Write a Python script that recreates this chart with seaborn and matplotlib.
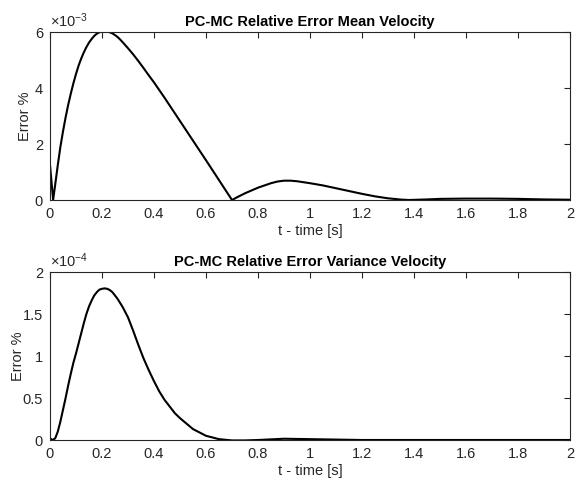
import numpy as np
import pandas as pd
import matplotlib
matplotlib.use("Agg")
import matplotlib.pyplot as plt
import seaborn as sns

# ---- data ----
# Top: PC-MC relative error of mean velocity, in units of 1e-3
t_mean = [0.0, 0.012, 0.02, 0.03, 0.04, 0.05, 0.06, 0.07, 0.08, 0.09, 0.10, 0.11,
          0.12, 0.13, 0.14, 0.15, 0.16, 0.17, 0.18, 0.19, 0.20, 0.21, 0.22, 0.23,
          0.24, 0.25, 0.26, 0.27, 0.28, 0.30, 0.32, 0.34, 0.36, 0.38, 0.40, 0.42,
          0.44, 0.46, 0.48, 0.50, 0.55, 0.60, 0.65, 0.70, 0.72, 0.75, 0.80, 0.85,
          0.875, 0.90, 0.925, 0.95, 1.00, 1.05, 1.10, 1.15, 1.20, 1.25, 1.30, 1.35,
          1.38, 1.45, 1.50, 1.60, 1.70, 1.80, 1.90, 2.00]
err_mean_e3 = [1.25, 0.0, 0.55, 1.25, 1.9, 2.45, 2.95, 3.4, 3.8, 4.17, 4.5, 4.8,
               5.05, 5.27, 5.46, 5.62, 5.75, 5.86, 5.94, 5.99, 6.02, 6.03, 6.02, 5.99,
               5.95, 5.89, 5.82, 5.73, 5.63, 5.42, 5.2, 4.96, 4.71, 4.45, 4.2, 3.93,
               3.66, 3.38, 3.1, 2.82, 2.12, 1.42, 0.71, 0.0, 0.1, 0.24, 0.44, 0.6,
               0.66, 0.69, 0.69, 0.67, 0.6, 0.52, 0.42, 0.32, 0.22, 0.13, 0.06, 0.015,
               0.0, 0.02, 0.04, 0.05, 0.05, 0.04, 0.02, 0.01]

# Bottom: PC-MC relative error of velocity variance, in units of 1e-4
t_var = [0.0, 0.01, 0.02, 0.03, 0.04, 0.05, 0.06, 0.07, 0.08, 0.09, 0.10, 0.11,
         0.12, 0.13, 0.14, 0.15, 0.16, 0.17, 0.18, 0.19, 0.20, 0.21, 0.22, 0.23,
         0.24, 0.25, 0.26, 0.27, 0.28, 0.29, 0.30, 0.32, 0.34, 0.36, 0.38, 0.40,
         0.42, 0.44, 0.46, 0.48, 0.50, 0.55, 0.60, 0.65, 0.70, 0.75, 0.80, 0.90,
         1.00, 1.10, 1.20, 1.40, 1.60, 1.80, 2.00]
err_var_e4 = [0.02, 0.0, 0.02, 0.1, 0.22, 0.36, 0.5, 0.65, 0.79, 0.92, 1.03, 1.15,
              1.27, 1.39, 1.5, 1.59, 1.66, 1.72, 1.76, 1.79, 1.80, 1.805, 1.8, 1.785,
              1.76, 1.72, 1.68, 1.63, 1.58, 1.52, 1.46, 1.3, 1.13, 0.97, 0.83, 0.7,
              0.58, 0.48, 0.4, 0.32, 0.26, 0.13, 0.05, 0.01, -0.005, -0.005, 0.0, 0.015,
              0.01, 0.005, 0.0, 0.0, 0.0, 0.0, 0.0]

x_ticks = [0, 0.2, 0.4, 0.6, 0.8, 1, 1.2, 1.4, 1.6, 1.8, 2]
x_tick_labels = ["0", "0.2", "0.4", "0.6", "0.8", "1", "1.2", "1.4", "1.6", "1.8", "2"]
top_yticks = [0, 2, 4, 6]
top_ytick_labels = ["0", "2", "4", "6"]
bot_yticks = [0, 0.5, 1, 1.5, 2]
bot_ytick_labels = ["0", "0.5", "1", "1.5", "2"]

titles = ["PC-MC Relative Error Mean Velocity", "PC-MC Relative Error Variance Velocity"]
exponents = [r"$\times\mathregular{10^{-3}}$", r"$\times\mathregular{10^{-4}}$"]
xlabel = "t - time [s]"
ylabel = "Error %"

# ---- style ----
sns.set_style("white")
plt.rcParams["font.family"] = ["Liberation Sans", "DejaVu Sans"]
plt.rcParams["mathtext.fontset"] = "custom"
plt.rcParams["mathtext.rm"] = "Liberation Sans"
plt.rcParams["mathtext.it"] = "Liberation Sans:italic"
plt.rcParams["mathtext.bf"] = "Liberation Sans:bold"

axcol = "#262626"
fig = plt.figure(figsize=(5.76, 4.84), dpi=100)
ax1 = fig.add_axes([50 / 576, 1 - 200 / 484, 520 / 576, 168 / 484])
ax2 = fig.add_axes([50 / 576, 1 - 440 / 484, 520 / 576, 168 / 484])

df1 = pd.DataFrame({"t": t_mean, "err": err_mean_e3})
df2 = pd.DataFrame({"t": t_var, "err": err_var_e4})

sns.lineplot(data=df1, x="t", y="err", ax=ax1, color="black", lw=1.5, sort=False)
sns.lineplot(data=df2, x="t", y="err", ax=ax2, color="black", lw=1.5, sort=False)

setups = [(ax1, (0, 6), top_yticks, top_ytick_labels, 25),
          (ax2, (0, 2), bot_yticks, bot_ytick_labels, 18)]
for i, (ax, ylim, yt, ytl, ylab_x) in enumerate(setups):
    ax.set_xlim(0, 2)
    ax.set_ylim(*ylim)
    ax.set_xticks(x_ticks)
    ax.set_xticklabels(x_tick_labels)
    ax.set_yticks(yt)
    ax.set_yticklabels(ytl)
    ax.tick_params(direction="in", length=4, width=0.8, colors=axcol,
                   labelsize=10.5, top=True, right=True, pad=5)
    for s in ax.spines.values():
        s.set_visible(True)
        s.set_color(axcol)
        s.set_linewidth(0.8)
    ax.set_xlabel(xlabel, fontsize=10.5, color=axcol, labelpad=2)
    ax.set_ylabel(ylabel, fontsize=10.5, color=axcol, va="center")
    ax.yaxis.set_label_coords(-(50 - ylab_x) / 520, 0.5)
    ax.set_title(titles[i], fontsize=10.5, fontweight="bold", color="black", pad=4)
    ax.text(0.0, 1.012, exponents[i], transform=ax.transAxes, ha="left", va="bottom",
            fontsize=10.5, color=axcol)

fig.savefig("out.png", dpi=100, facecolor="white")
